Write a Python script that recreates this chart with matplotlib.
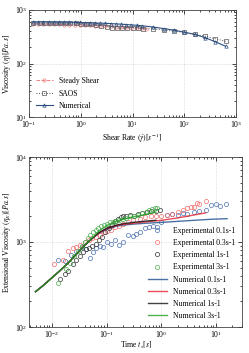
import numpy as np
import matplotlib
matplotlib.use("Agg")
import matplotlib.pyplot as plt

plt.rcParams["font.family"] = ["Liberation Serif", "DejaVu Serif"]
plt.rcParams["mathtext.fontset"] = "stix"
plt.rcParams["font.size"] = 5.5

# --- shear data ---
shear_rate_ss = [0.12, 0.15, 0.19, 0.24, 0.3, 0.38, 0.48, 0.6, 0.76, 0.95, 1.2, 1.5, 1.9, 2.4, 3.0, 3.8, 4.8, 6.0, 7.6, 9.5, 12, 15, 18]
eta_ss = [545, 545, 543, 542, 540, 538, 535, 532, 528, 525, 520, 515, 510, 505, 500, 495, 488, 480, 472, 465, 458, 452, 447]

shear_rate_saos = [0.12, 0.16, 0.2, 0.25, 0.32, 0.4, 0.5, 0.63, 0.8, 1.0, 1.26, 1.6, 2.0, 2.5, 3.2, 4.0, 5.0, 6.3, 8.0, 10, 12.6, 16, 25, 40, 63, 100, 160, 250, 400, 630]
eta_saos = [575, 575, 573, 572, 570, 568, 566, 563, 560, 556, 552, 548, 530, 510, 490, 470, 460, 455, 460, 470, 460, 440, 445, 420, 405, 380, 350, 325, 290, 260]

shear_rate_num = [0.12, 0.15, 0.19, 0.24, 0.3, 0.38, 0.48, 0.6, 0.76, 0.95, 1.2, 1.5, 1.9, 2.4, 3.0, 3.8, 4.8, 6.0, 7.6, 9.5, 12, 15, 25, 40, 63, 100, 160, 250, 400, 630]
eta_num = [600, 600, 598, 597, 596, 594, 592, 590, 587, 584, 580, 576, 572, 568, 563, 557, 550, 543, 535, 527, 518, 508, 480, 450, 420, 385, 350, 305, 255, 210]

# --- extensional data ---
t_exp01 = [0.013, 0.017, 0.022, 0.028, 0.035, 0.042, 0.05, 0.057, 0.065, 0.075, 0.085, 0.1, 0.12, 0.14, 0.17, 0.2, 0.25, 0.3, 0.35, 0.4, 0.5, 0.6, 0.7, 0.85, 1.0, 1.3, 1.6, 2.0, 2.5, 3.0, 4.0, 5.0, 6.5, 8.0, 10, 12, 15]
eta_exp01 = [620, 600, 700, 780, 870, 820, 650, 760, 850, 900, 880, 1000, 950, 1050, 920, 1000, 1200, 1180, 1250, 1300, 1450, 1500, 1550, 1500, 1700, 2100, 2150, 2100, 2200, 2150, 2250, 2300, 2400, 2700, 2800, 2650, 2800]

t_exp03 = [0.011, 0.016, 0.02, 0.024, 0.028, 0.033, 0.04, 0.047, 0.055, 0.065, 0.075, 0.09, 0.1, 0.12, 0.14, 0.17, 0.2, 0.25, 0.3, 0.4, 0.5, 0.65, 0.8, 1.0, 1.3, 1.6, 2.0, 2.5, 3.0, 3.5, 4.0, 4.5, 5.0, 6.5]
eta_exp03 = [550, 620, 780, 850, 880, 920, 1000, 1050, 1100, 1150, 1200, 1300, 1350, 1400, 1500, 1550, 1650, 1700, 1800, 1850, 1950, 2000, 2050, 2050, 2100, 2150, 2250, 2400, 2500, 2600, 2550, 2900, 2800, 3000]

t_exp1 = [0.014, 0.017, 0.02, 0.024, 0.028, 0.032, 0.037, 0.042, 0.048, 0.055, 0.063, 0.072, 0.082, 0.095, 0.11, 0.125, 0.14, 0.16, 0.18, 0.2, 0.23, 0.27, 0.32, 0.38, 0.45, 0.55, 0.65, 0.8, 0.95]
eta_exp1 = [370, 420, 450, 550, 620, 680, 760, 820, 850, 900, 950, 1050, 1150, 1300, 1450, 1600, 1750, 1850, 1950, 2000, 2050, 2100, 2050, 2150, 2200, 2250, 2300, 2300, 2350]

t_exp3 = [0.013, 0.018, 0.021, 0.025, 0.03, 0.035, 0.04, 0.045, 0.05, 0.056, 0.063, 0.07, 0.08, 0.09, 0.1, 0.115, 0.13, 0.15, 0.17, 0.2, 0.23, 0.27, 0.32, 0.38, 0.45, 0.52, 0.6, 0.68, 0.76, 0.85]
eta_exp3 = [330, 480, 560, 680, 780, 900, 1000, 1100, 1200, 1300, 1400, 1450, 1550, 1600, 1650, 1700, 1700, 1750, 1800, 1850, 1900, 2000, 2050, 2100, 2200, 2250, 2350, 2450, 2500, 2500]

t_num = [0.005, 0.007, 0.01, 0.014, 0.02, 0.028, 0.04, 0.05]
eta_num_common = [260, 310, 380, 460, 570, 720, 920, 1050]
t_num01 = [0.05, 0.07, 0.1, 0.15, 0.2, 0.3, 0.5, 1.0, 2.0, 4.0, 8.0, 16]
eta_num01 = [1050, 1250, 1420, 1530, 1580, 1620, 1660, 1700, 1750, 1800, 1850, 1880]
t_num03 = [0.05, 0.07, 0.1, 0.15, 0.2, 0.3, 0.5, 1.0, 2.0, 4.0, 6.5]
eta_num03 = [1050, 1260, 1440, 1560, 1610, 1660, 1720, 1800, 1920, 2080, 2200]
t_num1 = [0.05, 0.07, 0.1, 0.15, 0.2, 0.3, 0.5, 0.8]
eta_num1 = [1050, 1270, 1450, 1580, 1640, 1700, 1760, 1800]
t_num3 = [0.05, 0.07, 0.1, 0.15, 0.2, 0.3, 0.5, 0.8]
eta_num3 = [1060, 1320, 1560, 1750, 1850, 1970, 2100, 2250]


def style(ax):
    ax.tick_params(which="both", direction="in", top=True, right=True, labelsize=5.5, width=0.5, pad=1.5)
    ax.tick_params(which="major", length=3)
    ax.tick_params(which="minor", length=1.5)
    ax.grid(True, which="major", ls=":", lw=0.4, color="#bbbbbb")
    for s in ax.spines.values():
        s.set_linewidth(0.6)
        s.set_color("#444444")


fig = plt.figure(figsize=(2.49, 3.53), dpi=100)
ax1 = fig.add_axes([29 / 249, 1 - 117 / 353, 207 / 249, 107 / 353])
ax2 = fig.add_axes([29 / 249, 1 - 327 / 353, 213 / 249, 170 / 353])

ax1.plot(shear_rate_ss, eta_ss, "--o", color="#f08080", lw=0.7, ms=2.4, mfc="none", mew=0.5, label="Steady Shear")
ax1.plot(shear_rate_saos, eta_saos, ":s", color="#555555", lw=0.7, ms=2.8, mfc="none", mew=0.5, label="SAOS")
ax1.plot(shear_rate_num, eta_num, "-^", color="#2b4f80", lw=0.8, ms=2.4, mfc="none", mew=0.5, label="Numerical")
ax1.set_xscale("log")
ax1.set_yscale("log")
ax1.set_xlim(0.1, 1000)
ax1.set_ylim(10, 1000)
ax1.set_xlabel(r"Shear Rate $(\dot{\gamma})[s^{-1}]$", fontsize=5.5, labelpad=1)
ax1.set_ylabel(r"Viscosity $(\eta)[Pa.s]$", fontsize=5.5, labelpad=1)
style(ax1)
ax1.legend(loc="lower left", frameon=False, fontsize=5.5, handlelength=2.2, labelspacing=0.6,
           bbox_to_anchor=(0.0, 0.0))

c01, c03, c1, c3 = "#4c72b0", "#f26b6b", "#333333", "#4caf50"
ax2.plot(t_exp01, eta_exp01, "o", color=c01, ms=3, mfc="none", mew=0.5, label="Experimental 0.1s-1")
ax2.plot(t_exp03, eta_exp03, "o", color=c03, ms=3, mfc="none", mew=0.5, label="Experimental 0.3s-1")
ax2.plot(t_exp1, eta_exp1, "o", color=c1, ms=3, mfc="none", mew=0.5, label="Experimental 1s-1")
ax2.plot(t_exp3, eta_exp3, "o", color=c3, ms=3, mfc="none", mew=0.5, label="Experimental 3s-1")
ax2.plot(t_num + t_num01[1:], eta_num_common + eta_num01[1:], "-", color="#1f4e8c", lw=1.0, alpha=0.8, label="Numerical 0.1s-1")
ax2.plot(t_num + t_num03[1:], eta_num_common + eta_num03[1:], "-", color="#e8202e", lw=1.0, alpha=0.8, label="Numerical 0.3s-1")
ax2.plot(t_num + t_num1[1:], eta_num_common + eta_num1[1:], "-", color="#111111", lw=1.0, alpha=0.8, label="Numerical 1s-1")
ax2.plot(t_num + t_num3[1:], eta_num_common + eta_num3[1:], "-", color="#22a022", lw=1.0, alpha=0.8, label="Numerical 3s-1")
ax2.set_xscale("log")
ax2.set_yscale("log")
ax2.set_xlim(3.8e-3, 30)
ax2.set_ylim(100, 10000)
ax2.set_xlabel(r"Time $t_s[s]$", fontsize=5.5, labelpad=0)
ax2.set_ylabel(r"Extensional Viscosity $(\eta_E)[Pa.s]$", fontsize=5.5, labelpad=1)
style(ax2)
ax2.legend(loc="lower right", frameon=False, fontsize=5.5, handlelength=2.5, labelspacing=0.55,
           bbox_to_anchor=(1.0, 0.0))

fig.savefig("out.png", dpi=100)
